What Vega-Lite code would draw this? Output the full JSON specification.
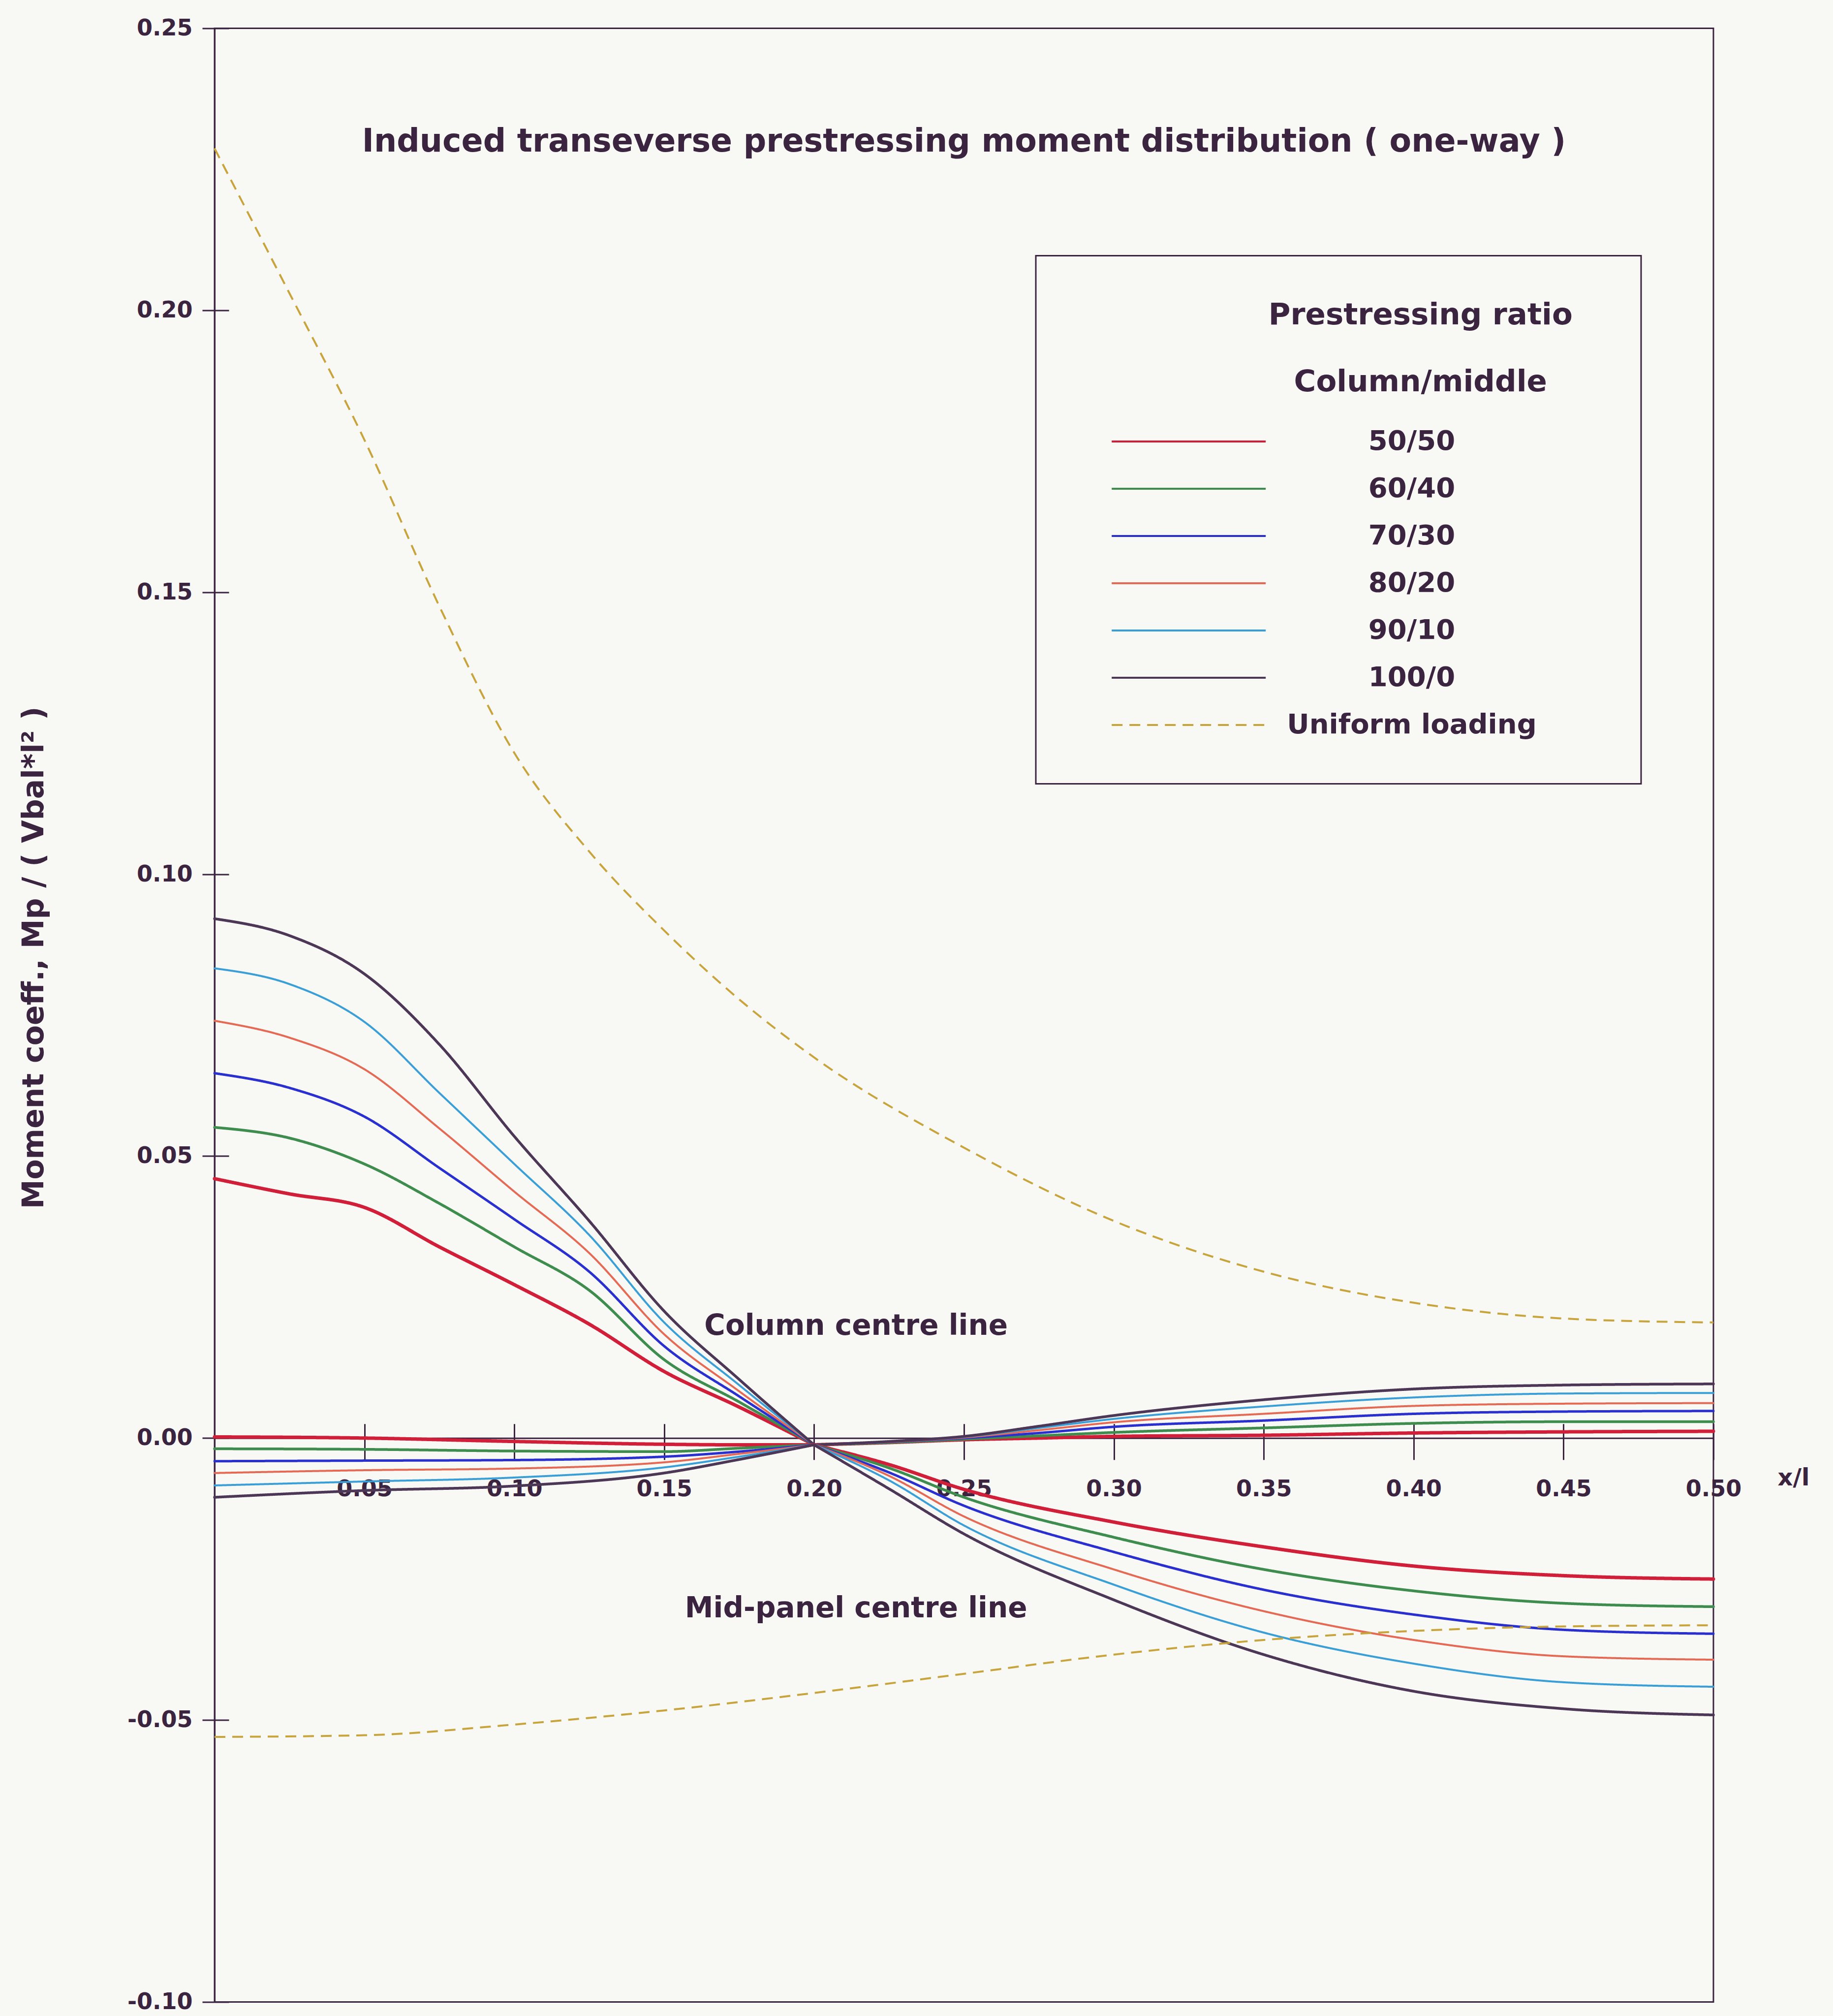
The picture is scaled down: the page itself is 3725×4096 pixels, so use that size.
{
"$schema": "https://vega.github.io/schema/vega-lite/v6.json",
"width": 3046,
"height": 4010,
"autosize": {"type": "none"},
"padding": {"left": 436, "top": 57.5, "right": 243, "bottom": 28.5},
"background": "#f8f8f5",
"title": {"text": "Induced transeverse prestressing moment distribution ( one-way )", "anchor": "middle", "frame": "group", "orient": "top", "offset": -287, "font": "DejaVu Sans", "fontSize": 65, "fontWeight": "bold", "color": "#3b2440"},
"datasets": {
"pre": [
{"x":0,"y":0.0460,"ratio":"50/50","line":"Column A"},{"x":0.025,"y":0.0433,"ratio":"50/50","line":"Column A"},{"x":0.05,"y":0.0409,"ratio":"50/50","line":"Column A"},{"x":0.075,"y":0.0339,"ratio":"50/50","line":"Column A"},{"x":0.1,"y":0.0272,"ratio":"50/50","line":"Column A"},{"x":0.125,"y":0.0202,"ratio":"50/50","line":"Column A"},{"x":0.15,"y":0.0118,"ratio":"50/50","line":"Column A"},{"x":0.175,"y":0.0055,"ratio":"50/50","line":"Column A"},{"x":0.2,"y":-0.0012,"ratio":"50/50","line":"Column A"},
{"x":0.2,"y":-0.0012,"ratio":"50/50","line":"Column B"},{"x":0.225,"y":-0.0008,"ratio":"50/50","line":"Column B"},{"x":0.25,"y":-0.0003,"ratio":"50/50","line":"Column B"},{"x":0.275,"y":0.0,"ratio":"50/50","line":"Column B"},{"x":0.3,"y":0.0003,"ratio":"50/50","line":"Column B"},{"x":0.35,"y":0.0005,"ratio":"50/50","line":"Column B"},{"x":0.4,"y":0.0009,"ratio":"50/50","line":"Column B"},{"x":0.45,"y":0.0011,"ratio":"50/50","line":"Column B"},{"x":0.5,"y":0.0012,"ratio":"50/50","line":"Column B"},
{"x":0,"y":0.0551,"ratio":"60/40","line":"Column A"},{"x":0.025,"y":0.0532,"ratio":"60/40","line":"Column A"},{"x":0.05,"y":0.0486,"ratio":"60/40","line":"Column A"},{"x":0.075,"y":0.0416,"ratio":"60/40","line":"Column A"},{"x":0.1,"y":0.0339,"ratio":"60/40","line":"Column A"},{"x":0.125,"y":0.0262,"ratio":"60/40","line":"Column A"},{"x":0.15,"y":0.0139,"ratio":"60/40","line":"Column A"},{"x":0.175,"y":0.0064,"ratio":"60/40","line":"Column A"},{"x":0.2,"y":-0.0012,"ratio":"60/40","line":"Column A"},
{"x":0.2,"y":-0.0012,"ratio":"60/40","line":"Column B"},{"x":0.225,"y":-0.0008,"ratio":"60/40","line":"Column B"},{"x":0.25,"y":-0.0002,"ratio":"60/40","line":"Column B"},{"x":0.275,"y":0.0004,"ratio":"60/40","line":"Column B"},{"x":0.3,"y":0.0010,"ratio":"60/40","line":"Column B"},{"x":0.35,"y":0.0018,"ratio":"60/40","line":"Column B"},{"x":0.4,"y":0.0026,"ratio":"60/40","line":"Column B"},{"x":0.45,"y":0.0029,"ratio":"60/40","line":"Column B"},{"x":0.5,"y":0.0029,"ratio":"60/40","line":"Column B"},
{"x":0,"y":0.0647,"ratio":"70/30","line":"Column A"},{"x":0.025,"y":0.0621,"ratio":"70/30","line":"Column A"},{"x":0.05,"y":0.0570,"ratio":"70/30","line":"Column A"},{"x":0.075,"y":0.0479,"ratio":"70/30","line":"Column A"},{"x":0.1,"y":0.0388,"ratio":"70/30","line":"Column A"},{"x":0.125,"y":0.0295,"ratio":"70/30","line":"Column A"},{"x":0.15,"y":0.0163,"ratio":"70/30","line":"Column A"},{"x":0.175,"y":0.0074,"ratio":"70/30","line":"Column A"},{"x":0.2,"y":-0.0012,"ratio":"70/30","line":"Column A"},
{"x":0.2,"y":-0.0012,"ratio":"70/30","line":"Column B"},{"x":0.225,"y":-0.0007,"ratio":"70/30","line":"Column B"},{"x":0.25,"y":0.0,"ratio":"70/30","line":"Column B"},{"x":0.275,"y":0.0009,"ratio":"70/30","line":"Column B"},{"x":0.3,"y":0.0020,"ratio":"70/30","line":"Column B"},{"x":0.35,"y":0.0031,"ratio":"70/30","line":"Column B"},{"x":0.4,"y":0.0043,"ratio":"70/30","line":"Column B"},{"x":0.45,"y":0.0047,"ratio":"70/30","line":"Column B"},{"x":0.5,"y":0.0048,"ratio":"70/30","line":"Column B"},
{"x":0,"y":0.0740,"ratio":"80/20","line":"Column A"},{"x":0.025,"y":0.0710,"ratio":"80/20","line":"Column A"},{"x":0.05,"y":0.0654,"ratio":"80/20","line":"Column A"},{"x":0.075,"y":0.0549,"ratio":"80/20","line":"Column A"},{"x":0.1,"y":0.0437,"ratio":"80/20","line":"Column A"},{"x":0.125,"y":0.0328,"ratio":"80/20","line":"Column A"},{"x":0.15,"y":0.0184,"ratio":"80/20","line":"Column A"},{"x":0.175,"y":0.0083,"ratio":"80/20","line":"Column A"},{"x":0.2,"y":-0.0012,"ratio":"80/20","line":"Column A"},
{"x":0.2,"y":-0.0012,"ratio":"80/20","line":"Column B"},{"x":0.225,"y":-0.0007,"ratio":"80/20","line":"Column B"},{"x":0.25,"y":0.0001,"ratio":"80/20","line":"Column B"},{"x":0.275,"y":0.0014,"ratio":"80/20","line":"Column B"},{"x":0.3,"y":0.0028,"ratio":"80/20","line":"Column B"},{"x":0.35,"y":0.0043,"ratio":"80/20","line":"Column B"},{"x":0.4,"y":0.0057,"ratio":"80/20","line":"Column B"},{"x":0.45,"y":0.0061,"ratio":"80/20","line":"Column B"},{"x":0.5,"y":0.0062,"ratio":"80/20","line":"Column B"},
{"x":0,"y":0.0833,"ratio":"90/10","line":"Column A"},{"x":0.025,"y":0.0805,"ratio":"90/10","line":"Column A"},{"x":0.05,"y":0.0738,"ratio":"90/10","line":"Column A"},{"x":0.075,"y":0.0612,"ratio":"90/10","line":"Column A"},{"x":0.1,"y":0.0486,"ratio":"90/10","line":"Column A"},{"x":0.125,"y":0.0360,"ratio":"90/10","line":"Column A"},{"x":0.15,"y":0.0205,"ratio":"90/10","line":"Column A"},{"x":0.175,"y":0.0094,"ratio":"90/10","line":"Column A"},{"x":0.2,"y":-0.0012,"ratio":"90/10","line":"Column A"},
{"x":0.2,"y":-0.0012,"ratio":"90/10","line":"Column B"},{"x":0.225,"y":-0.0006,"ratio":"90/10","line":"Column B"},{"x":0.25,"y":0.0002,"ratio":"90/10","line":"Column B"},{"x":0.275,"y":0.0018,"ratio":"90/10","line":"Column B"},{"x":0.3,"y":0.0034,"ratio":"90/10","line":"Column B"},{"x":0.35,"y":0.0056,"ratio":"90/10","line":"Column B"},{"x":0.4,"y":0.0072,"ratio":"90/10","line":"Column B"},{"x":0.45,"y":0.0079,"ratio":"90/10","line":"Column B"},{"x":0.5,"y":0.0080,"ratio":"90/10","line":"Column B"},
{"x":0,"y":0.0921,"ratio":"100/0","line":"Column A"},{"x":0.025,"y":0.0891,"ratio":"100/0","line":"Column A"},{"x":0.05,"y":0.0823,"ratio":"100/0","line":"Column A"},{"x":0.075,"y":0.0698,"ratio":"100/0","line":"Column A"},{"x":0.1,"y":0.0535,"ratio":"100/0","line":"Column A"},{"x":0.125,"y":0.0385,"ratio":"100/0","line":"Column A"},{"x":0.15,"y":0.0225,"ratio":"100/0","line":"Column A"},{"x":0.175,"y":0.0104,"ratio":"100/0","line":"Column A"},{"x":0.2,"y":-0.0012,"ratio":"100/0","line":"Column A"},
{"x":0.2,"y":-0.0012,"ratio":"100/0","line":"Column B"},{"x":0.225,"y":-0.0006,"ratio":"100/0","line":"Column B"},{"x":0.25,"y":0.0003,"ratio":"100/0","line":"Column B"},{"x":0.275,"y":0.0021,"ratio":"100/0","line":"Column B"},{"x":0.3,"y":0.0040,"ratio":"100/0","line":"Column B"},{"x":0.35,"y":0.0068,"ratio":"100/0","line":"Column B"},{"x":0.4,"y":0.0087,"ratio":"100/0","line":"Column B"},{"x":0.45,"y":0.0094,"ratio":"100/0","line":"Column B"},{"x":0.5,"y":0.0096,"ratio":"100/0","line":"Column B"},
{"x":0,"y":0.0002,"ratio":"50/50","line":"Mid A"},{"x":0.05,"y":0.0,"ratio":"50/50","line":"Mid A"},{"x":0.1,"y":-0.0006,"ratio":"50/50","line":"Mid A"},{"x":0.15,"y":-0.0011,"ratio":"50/50","line":"Mid A"},{"x":0.175,"y":-0.0012,"ratio":"50/50","line":"Mid A"},{"x":0.2,"y":-0.0012,"ratio":"50/50","line":"Mid A"},
{"x":0.2,"y":-0.0012,"ratio":"50/50","line":"Mid B"},{"x":0.225,"y":-0.0047,"ratio":"50/50","line":"Mid B"},{"x":0.25,"y":-0.0091,"ratio":"50/50","line":"Mid B"},{"x":0.3,"y":-0.0149,"ratio":"50/50","line":"Mid B"},{"x":0.35,"y":-0.0193,"ratio":"50/50","line":"Mid B"},{"x":0.4,"y":-0.0227,"ratio":"50/50","line":"Mid B"},{"x":0.45,"y":-0.0244,"ratio":"50/50","line":"Mid B"},{"x":0.5,"y":-0.0250,"ratio":"50/50","line":"Mid B"},
{"x":0,"y":-0.0019,"ratio":"60/40","line":"Mid A"},{"x":0.05,"y":-0.0020,"ratio":"60/40","line":"Mid A"},{"x":0.1,"y":-0.0023,"ratio":"60/40","line":"Mid A"},{"x":0.15,"y":-0.0024,"ratio":"60/40","line":"Mid A"},{"x":0.175,"y":-0.0018,"ratio":"60/40","line":"Mid A"},{"x":0.2,"y":-0.0012,"ratio":"60/40","line":"Mid A"},
{"x":0.2,"y":-0.0012,"ratio":"60/40","line":"Mid B"},{"x":0.225,"y":-0.0053,"ratio":"60/40","line":"Mid B"},{"x":0.25,"y":-0.0105,"ratio":"60/40","line":"Mid B"},{"x":0.3,"y":-0.0176,"ratio":"60/40","line":"Mid B"},{"x":0.35,"y":-0.0233,"ratio":"60/40","line":"Mid B"},{"x":0.4,"y":-0.0271,"ratio":"60/40","line":"Mid B"},{"x":0.45,"y":-0.0293,"ratio":"60/40","line":"Mid B"},{"x":0.5,"y":-0.0299,"ratio":"60/40","line":"Mid B"},
{"x":0,"y":-0.0041,"ratio":"70/30","line":"Mid A"},{"x":0.05,"y":-0.0040,"ratio":"70/30","line":"Mid A"},{"x":0.1,"y":-0.0039,"ratio":"70/30","line":"Mid A"},{"x":0.15,"y":-0.0033,"ratio":"70/30","line":"Mid A"},{"x":0.175,"y":-0.0024,"ratio":"70/30","line":"Mid A"},{"x":0.2,"y":-0.0012,"ratio":"70/30","line":"Mid A"},
{"x":0.2,"y":-0.0012,"ratio":"70/30","line":"Mid B"},{"x":0.225,"y":-0.0061,"ratio":"70/30","line":"Mid B"},{"x":0.25,"y":-0.0120,"ratio":"70/30","line":"Mid B"},{"x":0.3,"y":-0.0202,"ratio":"70/30","line":"Mid B"},{"x":0.35,"y":-0.0269,"ratio":"70/30","line":"Mid B"},{"x":0.4,"y":-0.0313,"ratio":"70/30","line":"Mid B"},{"x":0.45,"y":-0.0340,"ratio":"70/30","line":"Mid B"},{"x":0.5,"y":-0.0347,"ratio":"70/30","line":"Mid B"},
{"x":0,"y":-0.0062,"ratio":"80/20","line":"Mid A"},{"x":0.05,"y":-0.0057,"ratio":"80/20","line":"Mid A"},{"x":0.1,"y":-0.0054,"ratio":"80/20","line":"Mid A"},{"x":0.15,"y":-0.0043,"ratio":"80/20","line":"Mid A"},{"x":0.175,"y":-0.0028,"ratio":"80/20","line":"Mid A"},{"x":0.2,"y":-0.0012,"ratio":"80/20","line":"Mid A"},
{"x":0.2,"y":-0.0012,"ratio":"80/20","line":"Mid B"},{"x":0.225,"y":-0.0067,"ratio":"80/20","line":"Mid B"},{"x":0.25,"y":-0.0139,"ratio":"80/20","line":"Mid B"},{"x":0.3,"y":-0.0233,"ratio":"80/20","line":"Mid B"},{"x":0.35,"y":-0.0307,"ratio":"80/20","line":"Mid B"},{"x":0.4,"y":-0.0358,"ratio":"80/20","line":"Mid B"},{"x":0.45,"y":-0.0387,"ratio":"80/20","line":"Mid B"},{"x":0.5,"y":-0.0393,"ratio":"80/20","line":"Mid B"},
{"x":0,"y":-0.0084,"ratio":"90/10","line":"Mid A"},{"x":0.05,"y":-0.0077,"ratio":"90/10","line":"Mid A"},{"x":0.1,"y":-0.0070,"ratio":"90/10","line":"Mid A"},{"x":0.15,"y":-0.0052,"ratio":"90/10","line":"Mid A"},{"x":0.175,"y":-0.0033,"ratio":"90/10","line":"Mid A"},{"x":0.2,"y":-0.0012,"ratio":"90/10","line":"Mid A"},
{"x":0.2,"y":-0.0012,"ratio":"90/10","line":"Mid B"},{"x":0.225,"y":-0.0075,"ratio":"90/10","line":"Mid B"},{"x":0.25,"y":-0.0155,"ratio":"90/10","line":"Mid B"},{"x":0.3,"y":-0.0260,"ratio":"90/10","line":"Mid B"},{"x":0.35,"y":-0.0345,"ratio":"90/10","line":"Mid B"},{"x":0.4,"y":-0.0400,"ratio":"90/10","line":"Mid B"},{"x":0.45,"y":-0.0433,"ratio":"90/10","line":"Mid B"},{"x":0.5,"y":-0.0441,"ratio":"90/10","line":"Mid B"},
{"x":0,"y":-0.0105,"ratio":"100/0","line":"Mid A"},{"x":0.05,"y":-0.0093,"ratio":"100/0","line":"Mid A"},{"x":0.1,"y":-0.0085,"ratio":"100/0","line":"Mid A"},{"x":0.15,"y":-0.0062,"ratio":"100/0","line":"Mid A"},{"x":0.175,"y":-0.0038,"ratio":"100/0","line":"Mid A"},{"x":0.2,"y":-0.0012,"ratio":"100/0","line":"Mid A"},
{"x":0.2,"y":-0.0012,"ratio":"100/0","line":"Mid B"},{"x":0.225,"y":-0.0090,"ratio":"100/0","line":"Mid B"},{"x":0.25,"y":-0.0170,"ratio":"100/0","line":"Mid B"},{"x":0.3,"y":-0.0287,"ratio":"100/0","line":"Mid B"},{"x":0.35,"y":-0.0384,"ratio":"100/0","line":"Mid B"},{"x":0.4,"y":-0.0449,"ratio":"100/0","line":"Mid B"},{"x":0.45,"y":-0.0480,"ratio":"100/0","line":"Mid B"},{"x":0.5,"y":-0.0491,"ratio":"100/0","line":"Mid B"}
],
"uni": [
{"x":0,"y":0.2287,"ratio":"Uniform loading","line":"Column"},{"x":0.025,"y":0.2030,"ratio":"Uniform loading","line":"Column"},{"x":0.05,"y":0.1770,"ratio":"Uniform loading","line":"Column"},{"x":0.075,"y":0.1475,"ratio":"Uniform loading","line":"Column"},{"x":0.1,"y":0.1215,"ratio":"Uniform loading","line":"Column"},{"x":0.125,"y":0.1040,"ratio":"Uniform loading","line":"Column"},{"x":0.15,"y":0.0900,"ratio":"Uniform loading","line":"Column"},{"x":0.175,"y":0.0778,"ratio":"Uniform loading","line":"Column"},{"x":0.2,"y":0.0675,"ratio":"Uniform loading","line":"Column"},{"x":0.25,"y":0.0515,"ratio":"Uniform loading","line":"Column"},{"x":0.3,"y":0.0385,"ratio":"Uniform loading","line":"Column"},{"x":0.35,"y":0.0295,"ratio":"Uniform loading","line":"Column"},{"x":0.4,"y":0.0240,"ratio":"Uniform loading","line":"Column"},{"x":0.45,"y":0.0212,"ratio":"Uniform loading","line":"Column"},{"x":0.5,"y":0.0205,"ratio":"Uniform loading","line":"Column"},
{"x":0,"y":-0.0530,"ratio":"Uniform loading","line":"Mid"},{"x":0.05,"y":-0.0527,"ratio":"Uniform loading","line":"Mid"},{"x":0.1,"y":-0.0508,"ratio":"Uniform loading","line":"Mid"},{"x":0.15,"y":-0.0483,"ratio":"Uniform loading","line":"Mid"},{"x":0.2,"y":-0.0452,"ratio":"Uniform loading","line":"Mid"},{"x":0.25,"y":-0.0418,"ratio":"Uniform loading","line":"Mid"},{"x":0.3,"y":-0.0384,"ratio":"Uniform loading","line":"Mid"},{"x":0.35,"y":-0.0358,"ratio":"Uniform loading","line":"Mid"},{"x":0.4,"y":-0.0342,"ratio":"Uniform loading","line":"Mid"},{"x":0.45,"y":-0.0334,"ratio":"Uniform loading","line":"Mid"},{"x":0.5,"y":-0.0332,"ratio":"Uniform loading","line":"Mid"}
]
},
"layer": [
{
"data": {"name": "pre"},
"mark": {"type": "line", "interpolate": "monotone", "strokeCap": "round", "strokeJoin": "round"},
"encoding": {
"x": {"field": "x", "type": "quantitative", "scale": {"domain": [0, 0.5], "nice": false, "zero": false},
 "axis": {"orient": "bottom", "offset": -1145.7, "values": [0.05,0.1,0.15,0.2,0.25,0.3,0.35,0.4,0.45,0.5], "format": ".2f", "labelFontSize": 46, "labelFontWeight": "bold", "labelPadding": 38, "labelFlush": false, "labelOverlap": false, "labelBound": false, "tickSize": 44, "grid": false,
  "title": "x/l", "titleX": 3176, "titleY": 82, "titleAlign": "left", "titleBaseline": "middle", "titleAngle": 0, "titleFontSize": 48, "titleFontWeight": "bold"}},
"y": {"field": "y", "type": "quantitative", "scale": {"domain": [-0.1, 0.25], "nice": false, "zero": false},
 "axis": {"orient": "left", "values": [-0.1,-0.05,0,0.05,0.1,0.15,0.2,0.25], "labelExpr": "replace(format(datum.value, '.2f'), '\u2212', '-')", "labelFontSize": 46, "labelFontWeight": "bold", "labelPadding": 20, "labelOverlap": false, "labelBound": false, "tickSize": 25, "grid": false,
  "title": "Moment coeff.,  Mp / ( Vbal*l\u00b2 )", "titleX": -336, "titleY": 1888, "titleAngle": 270, "titleAlign": "center", "titleBaseline": "bottom", "titleFontSize": 60, "titleFontWeight": "bold"}},
"color": {"field": "ratio", "type": "nominal", "title": ["\u2800\u2800\u2800\u2800\u2800\u2800\u2800\u2800Prestressing ratio\u2800", "\u2800\u2800\u2800\u2800\u2800\u2800\u2800\u2800Column/middle\u2800"],
 "scale": {"domain": ["50/50","60/40","70/30","80/20","90/10","100/0","Uniform loading"], "range": ["#d11f3a","#3e8c4e","#2a2fcf","#e56a55","#3a9fd6","#4d3756","#c8a43c"]},
 "legend": {"encode": {"legend": {"update": {"strokeWidth": {"value": 3}}}}}},
"strokeDash": {"field": "ratio", "type": "nominal", "title": ["\u2800\u2800\u2800\u2800\u2800\u2800\u2800\u2800Prestressing ratio\u2800", "\u2800\u2800\u2800\u2800\u2800\u2800\u2800\u2800Column/middle\u2800"],
 "scale": {"domain": ["50/50","60/40","70/30","80/20","90/10","100/0","Uniform loading"], "range": [[1,0],[1,0],[1,0],[1,0],[1,0],[1,0],[22,14]]}},
"strokeWidth": {"condition": [{"test": "datum.ratio === '50/50'", "value": 7}, {"test": "datum.ratio === '60/40'", "value": 5.5}, {"test": "datum.ratio === '70/30'", "value": 5}, {"test": "datum.ratio === '100/0'", "value": 5.5}], "value": 4},
"detail": {"field": "line", "type": "nominal"}
}
},
{
"data": {"name": "uni"},
"mark": {"type": "line", "interpolate": "monotone"},
"encoding": {
"x": {"field": "x", "type": "quantitative",
 "axis": {"orient": "bottom", "offset": -1145.7, "values": [0.05,0.1,0.15,0.2,0.25,0.3,0.35,0.4,0.45,0.5], "tickSize": -29, "labels": false, "domain": false, "grid": false, "title": null}},
"y": {"field": "y", "type": "quantitative",
 "axis": {"orient": "left", "values": [-0.1,-0.05,0,0.05,0.1,0.15,0.2,0.25], "tickSize": -29, "labels": false, "domain": false, "grid": false, "title": null}},
"color": {"field": "ratio", "type": "nominal", "title": ["\u2800\u2800\u2800\u2800\u2800\u2800\u2800\u2800Prestressing ratio\u2800", "\u2800\u2800\u2800\u2800\u2800\u2800\u2800\u2800Column/middle\u2800"]},
"strokeDash": {"field": "ratio", "type": "nominal", "title": ["\u2800\u2800\u2800\u2800\u2800\u2800\u2800\u2800Prestressing ratio\u2800", "\u2800\u2800\u2800\u2800\u2800\u2800\u2800\u2800Column/middle\u2800"]},
"strokeWidth": {"value": 4},
"detail": {"field": "line", "type": "nominal"}
}
},
{
"data": {"values": [{}]},
"mark": {"type": "text", "font": "DejaVu Sans", "fontSize": 58, "fontWeight": "bold", "color": "#3b2440", "align": "center", "baseline": "middle"},
"encoding": {
"x": {"datum": 0.214, "type": "quantitative", "axis": null},
"y": {"datum": 0.0198, "type": "quantitative", "axis": null},
"text": {"value": "Column centre line"}
}
},
{
"data": {"values": [{}]},
"mark": {"type": "text", "font": "DejaVu Sans", "fontSize": 58, "fontWeight": "bold", "color": "#3b2440", "align": "center", "baseline": "middle"},
"encoding": {
"x": {"datum": 0.214, "type": "quantitative", "axis": null},
"y": {"datum": -0.0303, "type": "quantitative", "axis": null},
"text": {"value": "Mid-panel centre line"}
}
}
],
"resolve": {"axis": {"x": "independent", "y": "independent"}},
"config": {
"font": "DejaVu Sans",
"view": {"stroke": "#3b2440", "strokeWidth": 3, "fill": null},
"axis": {"domainColor": "#3b2440", "domainWidth": 3, "tickColor": "#3b2440", "tickWidth": 3, "labelColor": "#3b2440", "titleColor": "#3b2440", "labelFont": "DejaVu Sans", "titleFont": "DejaVu Sans"},
"legend": {
 "orient": "none", "legendX": 1669, "legendY": 462, "direction": "vertical",
 "padding": 91, "strokeColor": "#3b2440",
 "titleFont": "DejaVu Sans", "titleFontSize": 61, "titleFontWeight": "bold", "titleColor": "#3b2440", "titleAnchor": "middle", "titleAlign": "center", "titleLineHeight": 136, "titlePadding": 56, "titleLimit": 3000,
 "labelFont": "DejaVu Sans", "labelFontSize": 56, "labelFontWeight": "bold", "labelColor": "#3b2440", "labelAlign": "center", "labelOffset": 545, "labelLimit": 3000,
 "symbolType": "M-1,0H9M29.45,0L29.45,0", "symbolSize": 3919, "symbolStrokeWidth": 4, "symbolOffset": 37, "rowPadding": 34
}
}
}
